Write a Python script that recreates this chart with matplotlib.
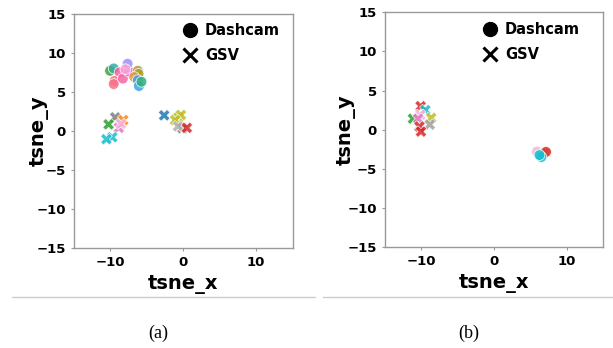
import matplotlib.pyplot as plt
from matplotlib.lines import Line2D

# (a) dashcam points
a_dash_x = [-10.0, -9.5, -8.7, -9.4, -9.5, -8.25, -7.4, -7.6, -7.9, -6.2, -6.1, -6.7, -6.2, -6.05, -5.7]
a_dash_y = [7.7, 8.0, 7.5, 6.4, 6.0, 6.7, 7.6, 8.6, 7.9, 7.7, 7.3, 6.9, 6.5, 5.75, 6.3]
a_dash_c = ['#3aa635', '#36ada4', '#f55fa6', '#f77189', '#f77189', '#f768a1', '#e052e8',
            '#a48cf4', '#f6a6d8', '#ae9d31', '#ae9d31', '#e69a3b', '#3ba3ec', '#3ba3ec', '#33b07a']
# (a) GSV points
a_gsv_x = [-9.3, -8.2, -10.2, -8.8, -8.5, -9.7, -10.5, -2.6, -0.65, -0.3, -1.1, -0.1, -0.7, 0.5]
a_gsv_y = [1.75, 1.4, 0.85, 0.4, 0.9, -0.8, -1.05, 2.0, 1.75, 2.05, 1.4, 0.35, 0.6, 0.4]
a_gsv_c = ['#7f7f7f', '#ff7f0e', '#2ca02c', '#e377c2', '#f4b6dd', '#17becf', '#17becf', '#1f77b4',
           '#bcbd22', '#bcbd22', '#bcbd22', '#7f7f7f', '#b0b0b0', '#d62728']

# (b) dashcam points
b_dash_x = [5.9, 6.8, 7.15, 6.5, 6.25]
b_dash_y = [-2.8, -3.0, -2.85, -3.5, -3.25]
b_dash_c = ['#f4b6dd', '#f2d24a', '#d62728', '#17becf', '#17becf']
# (b) GSV points
b_gsv_x = [-10.05, -9.4, -11.1, -10.1, -10.4, -8.6, -8.8, -10.2, -10.0]
b_gsv_y = [3.0, 2.5, 1.4, 1.9, 1.4, 1.5, 0.65, 0.4, -0.25]
b_gsv_c = ['#d62728', '#17becf', '#2ca02c', '#f4b6dd', '#e377c2', '#bcbd22', '#a0a0a0', '#d62728', '#d62728']

ticks = [-10, 0, 10]
yticks = [-15, -10, -5, 0, 5, 10, 15]

W, H = 613, 348
fig = plt.figure(figsize=(W / 100, H / 100), dpi=100)

panels = [
    ([73.5, 13.7, 292.8, 248.3], a_dash_x, a_dash_y, a_dash_c, a_gsv_x, a_gsv_y, a_gsv_c, -0.112, 0.49, '(a)', 158),
    ([384.5, 12.3, 603.3, 247.0], b_dash_x, b_dash_y, b_dash_c, b_gsv_x, b_gsv_y, b_gsv_c, -0.13, 0.44, '(b)', 469),
]

for box, dx, dy, dc, gx, gy, gc, ylx, legx, cap, capx in panels:
    l, t, r, b = box
    ax = fig.add_axes([l / W, 1 - b / H, (r - l) / W, (b - t) / H])
    ax.scatter(dx, dy, c=dc, marker='o', s=60, alpha=0.85, edgecolors='white', linewidths=0.6, zorder=3)
    ax.scatter(gx, gy, c=gc, marker='X', s=70, alpha=0.85, edgecolors='white', linewidths=0.5, zorder=3)
    ax.set_xlim(-15, 15)
    ax.set_ylim(-15, 15)
    ax.set_xticks(ticks)
    ax.set_yticks(yticks)
    for s in ax.spines.values():
        s.set_color('#999999')
        s.set_linewidth(1)
    ax.tick_params(length=2.5, width=0.8, color='#999999', pad=3, labelsize=9.5)
    for lab in ax.get_xticklabels() + ax.get_yticklabels():
        lab.set_fontweight('bold')
    ax.set_xlabel('tsne_x', fontsize=14, fontweight='bold')
    ax.set_ylabel('tsne_y', fontsize=14, fontweight='bold')
    ax.xaxis.set_label_coords(0.5, -0.115)
    ax.yaxis.set_label_coords(ylx, 0.5)

    handles = [
        Line2D([], [], ls='none', marker='o', color='black', markersize=10),
        Line2D([], [], ls='none', marker='x', color='black', markersize=10, markeredgewidth=2.2),
    ]
    ax.legend(handles, ['Dashcam', 'GSV'], loc='upper left', bbox_to_anchor=(legx, 0.96),
              frameon=False, prop={'weight': 'bold', 'size': 10.5}, handletextpad=0.45,
              borderaxespad=0, borderpad=0, labelspacing=0.7, handlelength=1.2)

    fig.text(capx / W, 1 - 333 / H, cap, ha='center', va='center',
             fontsize=13, family='Liberation Serif')

# grey rules under the panels
fig.add_artist(Line2D([11.7 / W, 315 / W], [1 - 297 / H] * 2, color='#cccccc', lw=1))
fig.add_artist(Line2D([322.5 / W, 1.0], [1 - 296.7 / H] * 2, color='#cccccc', lw=1))

fig.savefig('out.png', dpi=100)
